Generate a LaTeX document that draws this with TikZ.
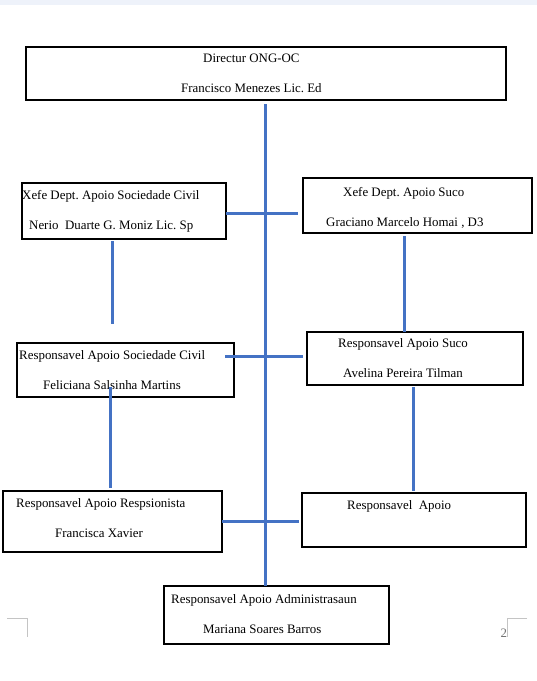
\documentclass[tikz,border=0pt]{standalone}
\usepackage{fontspec}
\setmainfont{Liberation Serif}
\usetikzlibrary{positioning}
\frenchspacing
\definecolor{org-blue}{HTML}{4472C4}
\definecolor{page-tint}{HTML}{EEF2FA}
\definecolor{crop-gray}{HTML}{C4C4C4}
\tikzset{
  org-box/.style={draw=black, fill=white, line width=1.3pt, inner sep=0pt, outer sep=0pt},
  org-text/.style={anchor=base west, inner sep=0pt, font=\fontsize{12.9}{15}\selectfont},
  org-link/.style={draw=org-blue, line width=3pt},
  crop-mark/.style={draw=crop-gray, line width=0.9pt}
}
\begin{document}
\begin{tikzpicture}[x=1pt, y=-1pt]
  \useasboundingbox[fill=white] (0,0) rectangle (537,681);
  \fill[page-tint] (0,0) rectangle (537,4.5);

  \node[org-box, minimum width=480pt, minimum height=53pt] (dir-box) at (266,73.5) {};
  \node[org-box, minimum width=204pt, minimum height=56pt] (xsc-box) at (124,211) {};
  \node[org-box, minimum width=229pt, minimum height=55pt] (xsu-box) at (417.5,205.5) {};
  \node[org-box, minimum width=217pt, minimum height=54pt] (rsc-box) at (125.5,370) {};
  \node[org-box, minimum width=216pt, minimum height=53pt] (rsu-box) at (415,358.5) {};
  \node[org-box, minimum width=219pt, minimum height=61pt] (rre-box) at (112.5,521.5) {};
  \node[org-box, minimum width=224pt, minimum height=54pt] (rap-box) at (414,520) {};
  \node[org-box, minimum width=225pt, minimum height=58pt] (adm-box) at (276.5,615) {};

  \node[org-text] (dir-title) at (203,62) {Directur ONG-OC};
  \node[org-text] (dir-name) at (181,92) {Francisco Menezes Lic. Ed};
  \node[org-text] (xsc-title) at (22,199) {Xefe Dept. Apoio Sociedade Civil};
  \node[org-text] (xsc-name) at (29,229) {Nerio\ \ Duarte G. Moniz Lic. Sp};
  \node[org-text] (xsu-title) at (343,196) {Xefe Dept. Apoio Suco};
  \node[org-text] (xsu-name) at (326,226) {Graciano Marcelo Homai , D3};
  \node[org-text] (rsc-title) at (19,359) {Responsavel Apoio Sociedade Civil};
  \node[org-text] (rsc-name) at (43,389) {Feliciana Salsinha Martins};
  \node[org-text] (rsu-title) at (338,347) {Responsavel Apoio Suco};
  \node[org-text] (rsu-name) at (343,377) {Avelina Pereira Tilman};
  \node[org-text] (rre-title) at (16,507) {Responsavel Apoio Respsionista};
  \node[org-text] (rre-name) at (55,537) {Francisca Xavier};
  \node[org-text] (rap-title) at (347,509) {Responsavel\ \ Apoio};
  \node[org-text] (adm-title) at (171,603) {Responsavel Apoio Administrasaun};
  \node[org-text] (adm-name) at (203,633) {Mariana Soares Barros};

  \coordinate (trunk) at (265.5,0);
  \draw[org-link] ([yshift=-4pt]dir-box.south -| trunk) -- (adm-box.north -| trunk);
  \draw[org-link, shorten >=5pt] ([yshift=-2pt]xsc-box.east) -- ([yshift=-2pt]xsc-box.east -| xsu-box.west);
  \draw[org-link, shorten <=2pt, shorten >=19pt] ([xshift=-12pt]xsc-box.south) -- ([xshift=-12pt]xsc-box.south |- rsc-box.north);
  \draw[org-link, shorten <=3pt] ([xshift=-13.5pt]xsu-box.south) -- ([xshift=-13.5pt]xsu-box.south |- rsu-box.north);
  \draw[org-link, shorten >=4pt] ([xshift=-9pt, yshift=14pt]rsc-box.east) -- ([yshift=14pt]rsc-box.east -| rsu-box.west);
  \draw[org-link, shorten >=3pt] ([xshift=-15.5pt, yshift=10pt]rsc-box.south) -- ([xshift=-15.5pt]rsc-box.south |- rre-box.north);
  \draw[org-link, shorten <=2pt, shorten >=2pt] ([xshift=-2pt]rsu-box.south) -- ([xshift=-2pt]rsu-box.south |- rap-box.north);
  \draw[org-link, shorten >=3pt] (rre-box.east) -- (rre-box.east -| rap-box.west);

  \draw[crop-mark] (7,618) -- (27,618) -- (27,637);
  \draw[crop-mark] (527,618) -- (507,618) -- (507,637);
  \node[org-text, text=black!55] (page-num) at (500.5,637) {2};
\end{tikzpicture}
\end{document}
